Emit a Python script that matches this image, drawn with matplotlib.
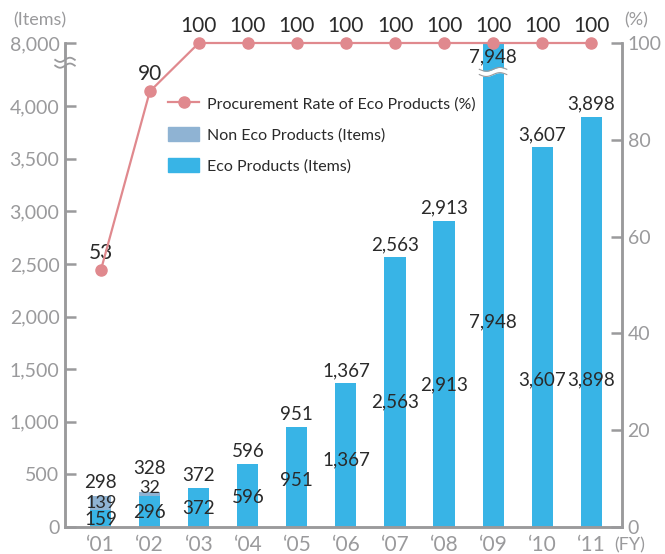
import numpy as np
import matplotlib
matplotlib.use("Agg")
import matplotlib.pyplot as plt
from matplotlib.patches import Patch
from matplotlib.lines import Line2D

# data
years = ["‘01", "‘02", "‘03", "‘04", "‘05", "‘06", "‘07", "‘08", "‘09", "‘10", "‘11"]
eco = [159, 296, 372, 596, 951, 1367, 2563, 2913, 7948, 3607, 3898]
non_eco = [139, 32, 0, 0, 0, 0, 0, 0, 0, 0, 0]
rate = [53, 90, 100, 100, 100, 100, 100, 100, 100, 100, 100]
left_ticks = [0, 500, 1000, 1500, 2000, 2500, 3000, 3500, 4000, 8000]
right_ticks = [0, 20, 40, 60, 80, 100]

ECO = "#38b4e6"
NON = "#8fb3d3"
LINE = "#e0898e"
GRAY = "#9a9a9c"
TXT = "#2a2a2a"

plt.rcParams["font.family"] = ["Lato", "DejaVu Sans"]


# broken axis: everything above 4,000 is squeezed in the top band
def to_disp(v):
    v = np.asarray(v, dtype=float)
    return np.where(v <= 4000, v, 4000 + (v - 4000) * 600 / 4000)


fig = plt.figure(figsize=(6.65, 5.54), dpi=100)
ax = fig.add_axes([65 / 665, 27 / 554, 557 / 665, 484 / 554])
ax2 = ax.twinx()

x = np.arange(len(years))
w = 0.43
eco_d = to_disp(eco)
tot = np.array(eco) + np.array(non_eco)
ax.bar(x, eco_d, w, color=ECO, zorder=2)
ax.bar(x, non_eco, w, bottom=eco_d, color=NON, zorder=2)

ax.set_xlim(-0.73, len(years) - 1 + 0.63)
ax.set_ylim(0, 4600)
ax.set_yticks(to_disp(left_ticks))
ax.set_yticklabels([f"{t:,}" for t in left_ticks])
ax.set_xticks(x)
ax.set_xticklabels(years)

for a in (ax, ax2):
    a.spines["top"].set_visible(False)
    for s in ["left", "right", "bottom"]:
        a.spines[s].set_color(GRAY)
        a.spines[s].set_linewidth(1.8)
ax.tick_params(axis="y", direction="in", length=8, width=1.8, color=GRAY,
               labelcolor=GRAY, labelsize=14, pad=4)
ax.tick_params(axis="x", length=0, labelcolor=GRAY, labelsize=15, pad=6)

ax2.set_ylim(0, 100)
ax2.set_yticks(right_ticks)
ax2.tick_params(axis="y", direction="in", length=8, width=1.8, color=GRAY,
                labelcolor=GRAY, labelsize=14, pad=4)

# procurement rate line
ax2.plot(x, rate, color=LINE, lw=1.6, marker="o", ms=8, zorder=5, clip_on=False)
for xi, r in zip(x, rate):
    ax2.text(xi, r + 3.6, f"{r}", ha="center", va="center", fontsize=15, color=TXT)

# bar labels
fs = 13.5
for xi, e, n, t in zip(x, eco, non_eco, tot):
    if e > 4000:
        ax.text(xi, to_disp(t) - 40, f"{t:,}", ha="center", va="top", fontsize=fs, color=TXT, zorder=6)
        ax.text(xi, 1950, f"{e:,}", ha="center", va="center", fontsize=fs, color=TXT, zorder=6)
        continue
    lift = 110 if 0 < n < 100 else 0
    ax.text(xi, t + 40 + lift, f"{t:,}", ha="center", va="bottom", fontsize=fs, color=TXT, zorder=6)
    ax.text(xi, min(e / 2 * 0.93, 1400), f"{e:,}", ha="center", va="center", fontsize=fs, color=TXT, zorder=6)
    if n > 0:
        ax.text(xi, e + max(n / 2, 70), f"{n:,}", ha="center", va="center", fontsize=13, color=TXT, zorder=6)

# wavy break across the tall bar
i9 = int(np.argmax(eco))
wx = np.linspace(-0.28, 0.28, 60)
wy = 18 * np.sin(wx / 0.56 * 2 * np.pi)
ax.fill_between(i9 + wx, 4300 + wy, 4350 + wy, color="white", lw=0, zorder=3)
ax.plot(i9 + wx, 4300 + wy, color=GRAY, lw=0.8, zorder=4)
ax.plot(i9 + wx, 4350 + wy, color=GRAY, lw=0.8, zorder=4)

# break mark on the left spine
bx = np.linspace(-0.2, 0.2, 40)
by = 20 * np.sin(bx / 0.4 * 2 * np.pi)
ax.fill_between(-0.73 + bx, 4385 + by, 4440 + by, color="white", lw=0, zorder=6, clip_on=False)
ax.plot(-0.73 + bx, 4385 + by, color=GRAY, lw=1.3, zorder=7, clip_on=False)
ax.plot(-0.73 + bx, 4440 + by, color=GRAY, lw=1.3, zorder=7, clip_on=False)

fig.text(40 / 665, 1 - 20 / 554, "(Items)", ha="center", va="center", fontsize=13, color=GRAY)
fig.text(636 / 665, 1 - 20 / 554, "(%)", ha="center", va="center", fontsize=13, color=GRAY)
fig.text(630 / 665, 1 - 545 / 554, "(FY)", ha="center", va="center", fontsize=13, color=GRAY)

handles = [
    Line2D([0], [0], color=LINE, lw=1.6, marker="o", ms=8),
    Patch(color=NON),
    Patch(color=ECO),
]
labels = ["Procurement Rate of Eco Products (%)", "Non Eco Products (Items)", "Eco Products (Items)"]
ax2.legend(handles, labels, loc="upper left", bbox_to_anchor=(0.16, 0.92), frameon=False,
           fontsize=11.5, handlelength=1.9, handleheight=1.0, labelspacing=0.95,
           handletextpad=0.5, labelcolor=TXT)

fig.savefig("out.png", dpi=100)
